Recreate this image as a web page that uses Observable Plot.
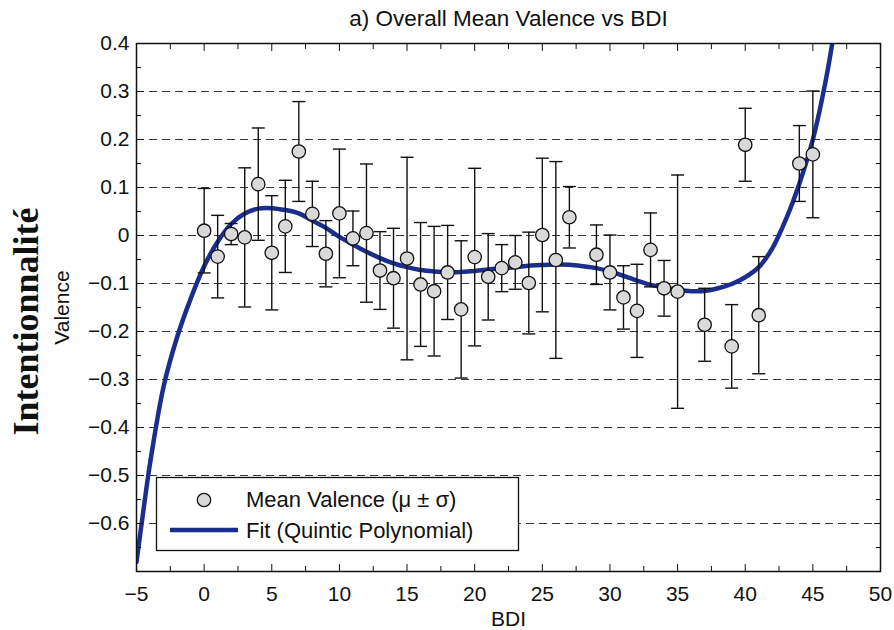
<!DOCTYPE html>
<html>
<head>
<meta charset="utf-8">
<script src="https://cdn.jsdelivr.net/npm/d3@7"></script>
<script src="https://cdn.jsdelivr.net/npm/@observablehq/plot@0.6"></script>
<style>
  html, body { margin: 0; padding: 0; background: #fff; }
  #chart svg { display: block; }
</style>
</head>
<body>
<div id="chart"></div>
<script>
// ---- data ----
const bdi = [0,1,2,3,4,5,6,7,8,9,10,11,12,13,14,15,16,17,18,19,20,21,22,23,24,25,26,27,29,30,31,32,33,34,35,37,39,40,41,44,45];
const meanValence = [0.010,-0.044,0.003,-0.004,0.107,-0.036,0.019,0.175,0.045,-0.038,0.046,-0.006,0.005,-0.073,-0.089,-0.048,-0.102,-0.116,-0.077,-0.154,-0.045,-0.086,-0.068,-0.056,-0.099,0.001,-0.051,0.038,-0.040,-0.077,-0.129,-0.157,-0.030,-0.110,-0.117,-0.186,-0.231,0.189,-0.166,0.150,0.169];
const sdValence = [0.088,0.086,0.022,0.145,0.117,0.119,0.096,0.104,0.068,0.069,0.134,0.057,0.144,0.081,0.104,0.211,0.129,0.135,0.098,0.143,0.185,0.090,0.049,0.056,0.106,0.160,0.205,0.064,0.062,0.078,0.066,0.097,0.077,0.058,0.243,0.076,0.087,0.076,0.122,0.079,0.132];

const fitBdi = [-5,-4.5,-4,-3,-2,-1,0,1,2,3,4,5,6,7,8,9,10,11,12,13,14,15,16,17,18,19,20,21,22,23,24,25,26,27,28,29,30,31,32,33,34,35,36,37,38,39,40,41,42,43,44,45,46,46.6];
const fitValence = [-0.680,-0.575,-0.475,-0.315,-0.212,-0.132,-0.064,-0.013,0.024,0.046,0.056,0.057,0.053,0.046,0.031,0.016,-0.003,-0.019,-0.034,-0.047,-0.058,-0.066,-0.072,-0.075,-0.0765,-0.076,-0.074,-0.071,-0.068,-0.066,-0.063,-0.0615,-0.0605,-0.061,-0.064,-0.068,-0.075,-0.084,-0.094,-0.103,-0.108,-0.113,-0.116,-0.1155,-0.110,-0.101,-0.087,-0.066,-0.027,0.033,0.108,0.200,0.330,0.430];

const xDomain = [-5, 50];
const yDomain = [-0.7, 0.4];
const xMajorTicks = [-5,0,5,10,15,20,25,30,35,40,45,50];
const xMinorTicks = [-2.5,2.5,7.5,12.5,17.5,22.5,27.5,32.5,37.5,42.5,47.5];
const yMajorTicks = [0.4,0.3,0.2,0.1,0,-0.1,-0.2,-0.3,-0.4,-0.5,-0.6];
const yMinorTicks = [0.35,0.25,0.15,0.05,-0.05,-0.15,-0.25,-0.35,-0.45,-0.55,-0.65];
const gridLevels = [0.3,0.2,0.1,0,-0.1,-0.2,-0.3,-0.4,-0.5,-0.6];

const titleText = "a) Overall Mean Valence vs BDI";
const xLabel = "BDI";
const yLabel = "Valence";
const sideLabel = "Intentionnalité";
const legendLabels = ["Mean Valence (\u03BC \u00B1 \u03C3)", "Fit (Quintic Polynomial)"];

// ---- build ----
const points = bdi.map((x, i) => ({x, m: meanValence[i], s: sdValence[i]}));
const fit = fitBdi.map((x, i) => ({x, y: fitValence[i]}));

const BLUE = "#1b2d8e";
const INK = "#111";
const DOT_FILL = "#d9d9d9";
const SANS = "'Liberation Sans', Arial, Helvetica, sans-serif";

const capSymbol = {
  draw(ctx, size) {
    const r = Math.sqrt(size / Math.PI);
    ctx.moveTo(-r, 0);
    ctx.lineTo(r, 0);
  }
};
const fmtY = d => Math.abs(d) < 1e-9 ? "0" : d3.format(".1f")(d);
const fmtX = d3.format("d");
const blank = () => "";

const chart = Plot.plot({
  width: 894,
  height: 630,
  marginTop: 43,
  marginBottom: 59,
  marginLeft: 136,
  marginRight: 14,
  style: {fontFamily: SANS, fontSize: "21px", background: "#fff", color: INK},
  x: {domain: xDomain, label: null},
  y: {domain: yDomain, label: null},
  marks: [
    Plot.gridY(gridLevels, {stroke: "#222", strokeOpacity: 0.9, strokeDasharray: "8,5", strokeWidth: 1}),
    Plot.line(fit, {x: "x", y: "y", curve: "catmull-rom", stroke: BLUE, strokeWidth: 4.5, clip: true}),
    Plot.ruleX(points, {x: "x", y1: d => d.m - d.s, y2: d => d.m + d.s, stroke: INK, strokeWidth: 1.4}),
    Plot.dot(points, {x: "x", y: d => d.m + d.s, symbol: capSymbol, r: 6.5, fill: "none", stroke: INK, strokeWidth: 1.4}),
    Plot.dot(points, {x: "x", y: d => d.m - d.s, symbol: capSymbol, r: 6.5, fill: "none", stroke: INK, strokeWidth: 1.4}),
    Plot.dot(points, {x: "x", y: "m", r: 6.7, fill: DOT_FILL, stroke: INK, strokeWidth: 1.3}),
    Plot.frame({stroke: INK, strokeWidth: 1.5}),
    // tick labels
    Plot.axisX(xMajorTicks, {anchor: "bottom", tickSize: 0, tickPadding: 15, tickFormat: fmtX, fontSize: 21, label: null}),
    Plot.axisY(yMajorTicks, {anchor: "left", tickSize: 0, tickPadding: 7, tickFormat: fmtY, fontSize: 21, label: null}),
    // inward tick marks on all four sides
    Plot.axisX(xMajorTicks, {anchor: "bottom", tickSize: -7, tickFormat: blank, label: null, stroke: INK}),
    Plot.axisX(xMinorTicks, {anchor: "bottom", tickSize: -5, tickFormat: blank, label: null, stroke: INK}),
    Plot.axisX(xMajorTicks, {anchor: "top", tickSize: -7, tickFormat: blank, label: null, stroke: INK}),
    Plot.axisX(xMinorTicks, {anchor: "top", tickSize: -5, tickFormat: blank, label: null, stroke: INK}),
    Plot.axisY(yMajorTicks, {anchor: "left", tickSize: -7, tickFormat: blank, label: null, stroke: INK}),
    Plot.axisY(yMinorTicks, {anchor: "left", tickSize: -5, tickFormat: blank, label: null, stroke: INK}),
    Plot.axisY(yMajorTicks, {anchor: "right", tickSize: -7, tickFormat: blank, label: null, stroke: INK}),
    Plot.axisY(yMinorTicks, {anchor: "right", tickSize: -5, tickFormat: blank, label: null, stroke: INK}),
    // titles
    Plot.text([titleText], {frameAnchor: "top", lineAnchor: "bottom", dy: -18, text: d => d, fontSize: 22.5, fill: INK}),
    Plot.text([xLabel], {frameAnchor: "bottom", lineAnchor: "bottom", dy: 54, text: d => d, fontSize: 21, fill: INK}),
    Plot.text([yLabel], {frameAnchor: "left", textAnchor: "middle", lineAnchor: "middle", rotate: -90, dx: -74, text: d => d, fontSize: 21, fill: INK}),
    Plot.text([sideLabel], {frameAnchor: "left", textAnchor: "middle", lineAnchor: "middle", rotate: -90, dx: -110, dy: 14, text: d => d, fontSize: 36, fontWeight: "bold", fontFamily: "'Liberation Serif', 'Times New Roman', serif", fill: INK})
  ]
});

document.getElementById("chart").appendChild(chart);

// ---- legend (drawn in pixel space inside the SVG) ----
const svg = d3.select(chart);
const lg = svg.append("g").attr("font-family", SANS).attr("font-size", 22).attr("fill", INK).attr("text-anchor", "start");
lg.append("rect").attr("x", 156.5).attr("y", 477.5).attr("width", 362).attr("height", 73)
  .attr("fill", "#fff").attr("stroke", INK).attr("stroke-width", 1.3);
lg.append("circle").attr("cx", 204).attr("cy", 500).attr("r", 6.7)
  .attr("fill", DOT_FILL).attr("stroke", INK).attr("stroke-width", 1.3);
lg.append("text").attr("x", 246).attr("y", 507).attr("text-anchor", "start").text(legendLabels[0]);
lg.append("line").attr("x1", 170).attr("x2", 238).attr("y1", 530).attr("y2", 530)
  .attr("stroke", BLUE).attr("stroke-width", 4.5);
lg.append("text").attr("x", 246).attr("y", 538).attr("text-anchor", "start").text(legendLabels[1]);
</script>
</body>
</html>
